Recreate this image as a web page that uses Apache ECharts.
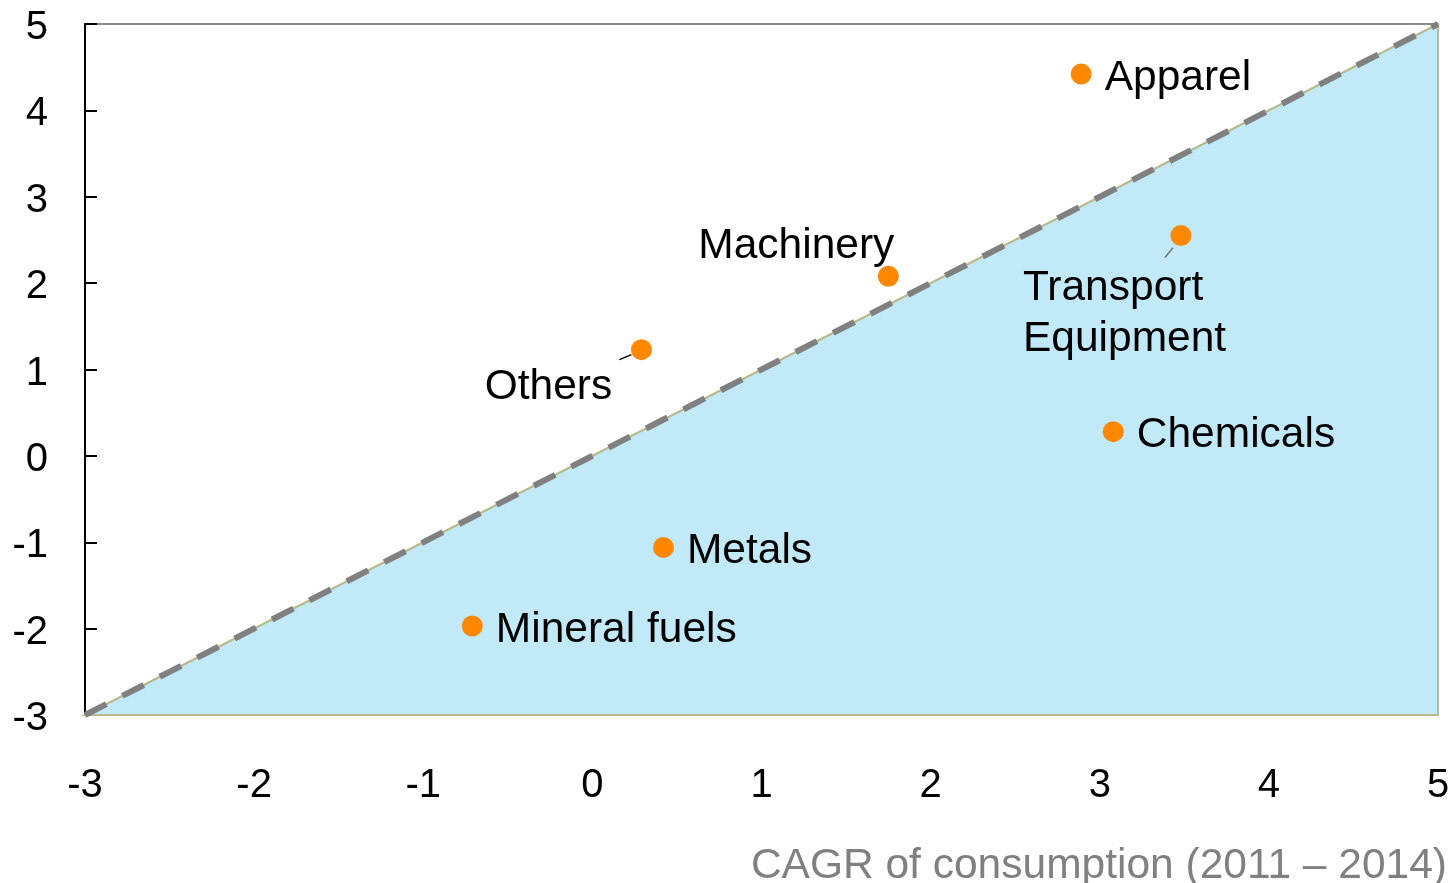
<!DOCTYPE html>
<html>
<head>
<meta charset="utf-8">
<script src="https://cdn.jsdelivr.net/npm/echarts@6/dist/echarts.min.js"></script>
<style>html,body{margin:0;padding:0;background:#fff;}#c{width:1454px;height:883px;}</style>
</head>
<body>
<div id="c"></div>
<script>
const names = ["Apparel","Machinery","Transport\nEquipment","Others","Chemicals","Metals","Mineral fuels"];
const xVals = [2.89, 1.75, 3.48, 0.29, 3.08, 0.42, -0.71];
const yVals = [4.42, 2.08, 2.55, 1.23, 0.28, -1.06, -1.97];
const diagonal = [[-3,-3],[5,5]];
const triangle = [[-3,-3],[5,5],[5,-3]];
const xTitle = "CAGR of consumption (2011 \u2013 2014)";

const FONT = "Liberation Sans, Arial, sans-serif";
// label placement (style only), indexed like names
const labelStyle = [
  {position:'right', distance:13, offset:[0,4]},
  {position:'inside', align:'center', offset:[-92,-30]},
  {position:'inside', align:'left', offset:[-158,78]},
  {position:'inside', align:'center', offset:[-93,38]},
  {position:'right', distance:13, offset:[0,4]},
  {position:'right', distance:13, offset:[0,4]},
  {position:'right', distance:13, offset:[0,4]}
];
const leaders = {2: [[-16,22],[-8,12]], 3: [[-22,10],[-10,5]]};

const pts = names.map((n,i)=>({
  name:n, value:[xVals[i], yVals[i]],
  label:Object.assign({show:true, formatter:'{b}', color:'#000', fontSize:42.5, fontFamily:FONT, lineHeight:51, verticalAlign:'middle'}, labelStyle[i])
}));

const chart = echarts.init(document.getElementById('c'), null, {renderer:'canvas'});
chart.setOption({
  animation:false,
  backgroundColor:'#fff',
  title:{text:xTitle, right:2, top:840, textStyle:{color:'#808080', fontSize:42.5, fontWeight:'normal', fontFamily:FONT}},
  grid:{left:85, right:16, top:24, bottom:168, show:true, borderColor:'#8c8c8c', borderWidth:2, backgroundColor:'transparent'},
  xAxis:{type:'value', min:-3, max:5, interval:1,
    axisLine:{show:true, onZero:false, lineStyle:{color:'#000', width:2}},
    axisTick:{show:true, inside:true, length:12, lineStyle:{color:'#000', width:2}},
    axisLabel:{color:'#000', fontSize:40, fontFamily:FONT, margin:51},
    splitLine:{show:false}},
  yAxis:{type:'value', min:-3, max:5, interval:1,
    axisLine:{show:true, onZero:false, lineStyle:{color:'#000', width:2}},
    axisTick:{show:true, inside:true, length:12, lineStyle:{color:'#000', width:2}},
    axisLabel:{margin:37, formatter:'{a|{value}}',
      rich:{a:{color:'#000', fontSize:40, fontFamily:FONT, padding:[8,0,0,0]}}},
    splitLine:{show:false}},
  series:[
    {type:'custom', z:1, silent:true, data:[0],
      renderItem:function(params, api){
        const p = triangle.map(d=>api.coord(d));
        return {type:'polygon', shape:{points:p}, style:{fill:'#c1e9f8', stroke:'#b9b98e', lineWidth:2}};
      }},
    {type:'line', z:2, silent:true, data:diagonal, symbol:'none',
      lineStyle:{color:'#808080', width:6, type:[24,18], cap:'butt'}},
    {type:'custom', z:3, silent:true, data:Object.keys(leaders).map(k=>[xVals[k], yVals[k], +k]),
      renderItem:function(params, api){
        const c = api.coord([api.value(0), api.value(1)]);
        const l = leaders[api.value(2)];
        return {type:'line', shape:{x1:c[0]+l[0][0], y1:c[1]+l[0][1], x2:c[0]+l[1][0], y2:c[1]+l[1][1]},
          style:{stroke: api.value(2)===3 ? '#000' : '#666', lineWidth:1.5}};
      }},
    {type:'scatter', z:4, data:pts, symbol:'circle', symbolSize:21,
      itemStyle:{color:'#ff8800', opacity:1}}
  ]
});
</script>
</body>
</html>
